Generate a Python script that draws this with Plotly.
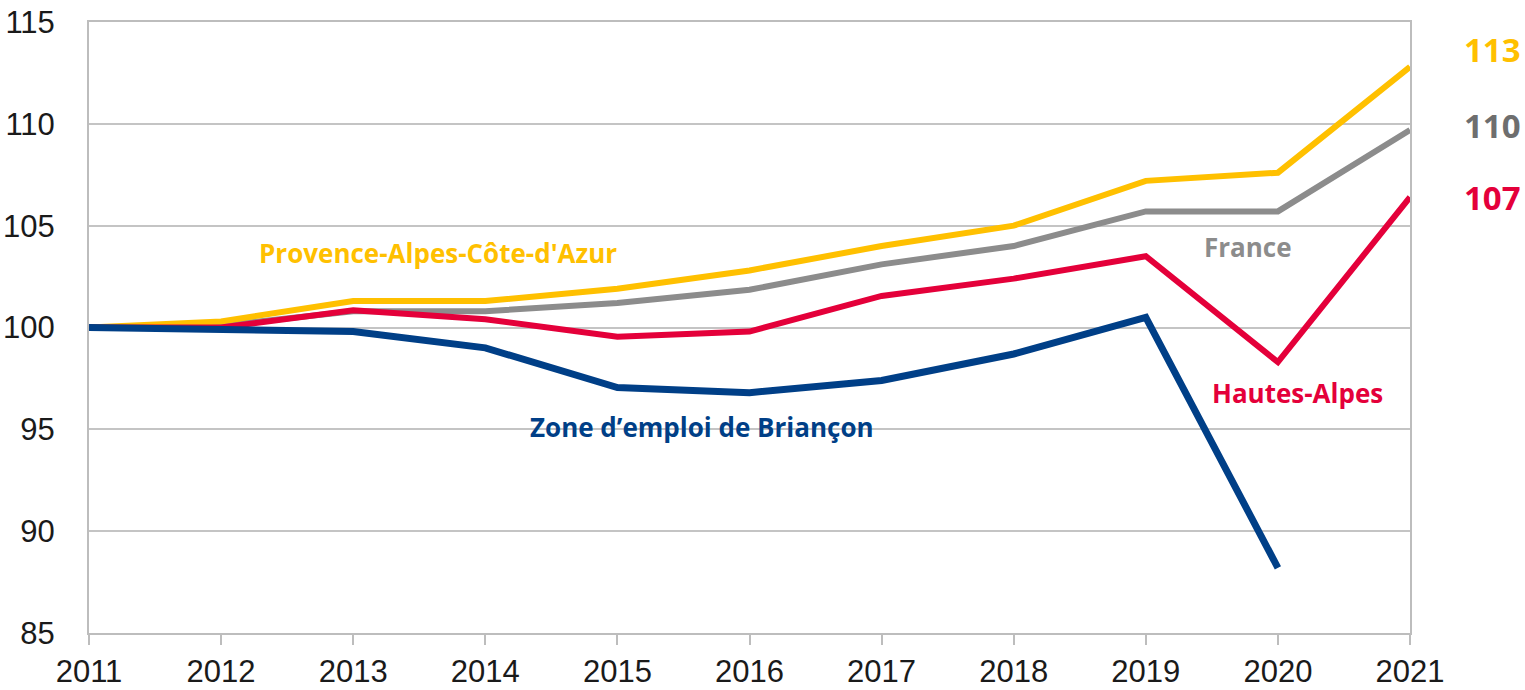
import plotly.graph_objects as go

years = [2011, 2012, 2013, 2014, 2015, 2016, 2017, 2018, 2019, 2020, 2021]
paca = [100.0, 100.3, 101.3, 101.3, 101.9, 102.8, 104.0, 105.0, 107.2, 107.6, 112.8]
france = [100.0, 100.1, 100.8, 100.8, 101.2, 101.85, 103.1, 104.0, 105.7, 105.7, 109.7]
hautes_alpes = [100.0, 100.0, 100.85, 100.4, 99.55, 99.8, 101.55, 102.4, 103.5, 98.3, 106.4]
briancon = [100.0, 99.9, 99.8, 99.0, 97.05, 96.8, 97.4, 98.7, 100.5, 88.2, None]

end_labels = ["113", "110", "107"]

C_PACA = "#FFC000"
C_FR = "#8C8C8C"
C_HA = "#E4003A"
C_BR = "#003F87"

fig = go.Figure()
for vals, col, w in [(france, C_FR, 6), (paca, C_PACA, 6), (hautes_alpes, C_HA, 6), (briancon, C_BR, 7)]:
    fig.add_trace(go.Scatter(x=years, y=vals, mode="lines",
                             line=dict(color=col, width=w), showlegend=False,
                             hoverinfo="skip"))

lab_font = "Open Sans"
annos = [
    ("Provence-Alpes-Côte-d'Azur", 2013.64, 103.67, C_PACA),
    ("France", 2019.77, 103.97, C_FR),
    ("Hautes-Alpes", 2020.15, 96.8, C_HA),
    ("Zone d’emploi de Briançon", 2015.64, 95.13, C_BR),
]
for txt, x, y, col in annos:
    fig.add_annotation(x=x, y=y, text=f"<b>{txt}</b>", showarrow=False,
                       font=dict(family=lab_font, size=26, color=col))

label_ypos = [113.64, 109.91, 106.37]
for t, y, col in zip(end_labels, label_ypos, [C_PACA, "#6E6E6E", C_HA]):
    fig.add_annotation(x=2021, y=y, text=f"<b>{t}</b>", showarrow=False,
                       xanchor="center", xshift=82,
                       font=dict(family=lab_font, size=33, color=col))

fig.update_layout(
    width=1525, height=690,
    margin=dict(l=89, r=115, t=22, b=57),
    paper_bgcolor="white", plot_bgcolor="white",
    font=dict(family="Liberation Sans", size=31, color="#1a1a1a"),
)
fig.update_xaxes(range=[2011, 2021], tickvals=years, ticktext=[str(y) for y in years],
                 showgrid=False, ticks="outside", ticklen=10, tickwidth=2, tickcolor="#BDBDBD",
                 showline=True, linecolor="#BDBDBD", linewidth=2, mirror=True,
                 zeroline=False, tickfont=dict(size=31), automargin=False,
                 ticklabeloverflow="allow")
fig.update_yaxes(range=[85, 115], tickvals=[85, 90, 95, 100, 105, 110, 115],
                 showgrid=True, gridcolor="#C4C4C4", gridwidth=2,
                 showline=True, linecolor="#BDBDBD", linewidth=2, mirror=True,
                 zeroline=False, ticks="", ticklabelstandoff=26, tickfont=dict(size=31),
                 automargin=False, ticklabeloverflow="allow")

fig.write_html("out.html", config={"displayModeBar": False},
               post_script="document.body.style.margin='0';document.body.style.overflow='hidden';")
